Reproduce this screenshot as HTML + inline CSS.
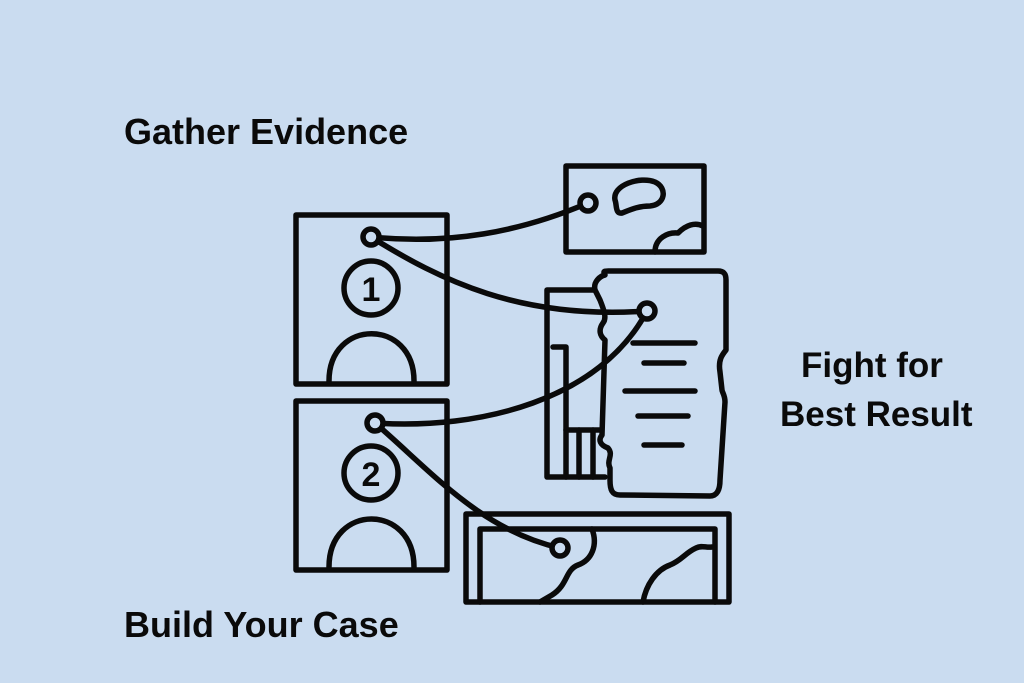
<!DOCTYPE html>
<html><head><style>
html,body{margin:0;padding:0;}
body{width:1024px;height:683px;background:#cadcf0;overflow:hidden;position:relative;font-family:"Liberation Sans",sans-serif;}
.t{position:absolute;font-weight:bold;font-size:35px;line-height:40px;color:#0a0a0a;white-space:nowrap;}
</style></head><body>
<svg width="1024" height="683" style="position:absolute;left:0;top:0" fill="none" stroke="#0a0a0a" stroke-width="5.5" stroke-linejoin="round" stroke-linecap="round">
<rect x="296" y="215" width="151" height="169"/>
<circle cx="371" cy="288" r="27"/>
<path d="M329 381 C329 318 414 318 414 381"/>
<rect x="296" y="401" width="151" height="169"/>
<circle cx="371" cy="473" r="27"/>
<path d="M329 567 C329 503 414 503 414 567"/>
<rect x="566" y="166" width="138" height="86"/>
<path d="M615 200 C612 185 640 176 655 182 C668 188 665 205 650 206 C638 206 630 210 622 213 C615 214 617 205 615 200Z"/>
<path d="M655 252 C655 238 668 232 678 233 C686 225 695 222 703 226"/>
<path d="M593 290 L547 290 L547 477 L605 477"/>
<path d="M553 347 L566 347 L566 477"/>
<path d="M579 430 L579 477"/>
<path d="M593 430 L593 477"/>
<path d="M566 430 L600 430"/>
<path d="M605 275 C602 270 606 271 612 271 L718 271 C724 271 726 274 726 280 L726 350 C722 355 718 360 720 372 L722 390 C722 392 725 395 725 402 L720 480 C720 490 717 496 710 496 L620 495 C612 495 610 490 610 480 L610 468 C606 460 614 455 608 448 C600 445 598 440 602 435 L605 340 C600 336 598 330 603 323 C607 318 604 310 600 300 L595 290 C593 282 600 276 605 275Z"/>
<path d="M633 343 L695 343 M644 363 L684 363 M625 391 L695 391 M638 416 L688 416 M644 445 L682 445"/>
<rect x="466" y="514" width="263" height="88"/>
<path d="M480 602 L480 529 L715 529 L715 602"/>
<path d="M592 529 C598 545 592 560 578 565 C565 570 568 585 552 595 L540 602"/>
<path d="M643 602 C646 585 656 570 670 565 C682 560 685 553 696 548 C702 545 706 548 712 547"/>
<path d="M371 237 C450 245 520 232 588 203"/>
<path d="M371 237 C440 280 520 320 647 311"/>
<path d="M375 423 C480 430 600 400 647 311"/>
<path d="M375 423 C430 470 480 530 560 548"/>
<g fill="#cadcf0">
<circle cx="371" cy="237" r="8"/>
<circle cx="375" cy="423" r="8"/>
<circle cx="588" cy="203" r="8"/>
<circle cx="647" cy="311" r="8"/>
<circle cx="560" cy="548" r="8"/>
</g>
<text x="371" y="301" font-family="Liberation Sans" font-weight="bold" font-size="34" text-anchor="middle" fill="#0a0a0a" stroke="none">1</text>
<text x="371" y="486" font-family="Liberation Sans" font-weight="bold" font-size="34" text-anchor="middle" fill="#0a0a0a" stroke="none">2</text>
</svg>
<div class="t" style="left:124px;top:112px;font-size:36px;">Gather Evidence</div>
<div class="t" style="left:801px;top:346px;">Fight for</div>
<div class="t" style="left:780px;top:395px;">Best Result</div>
<div class="t" style="left:124px;top:605px;font-size:36px;">Build Your Case</div>
</body></html>
